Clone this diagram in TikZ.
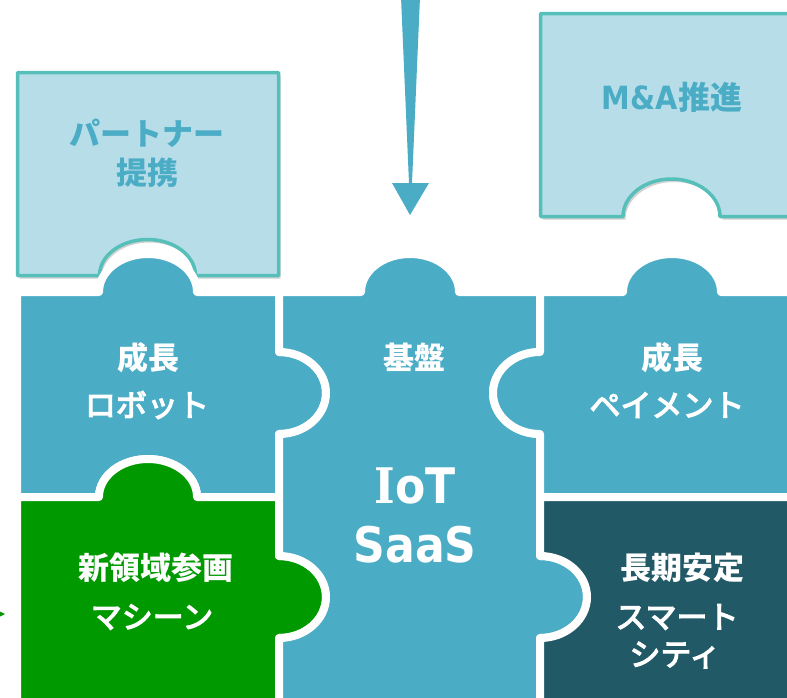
\documentclass[tikz,border=0pt]{standalone}
\usepackage{fontspec}
\setmainfont{Noto Sans CJK JP}
\newfontfamily\jpk[FakeBold=4]{Noto Sans CJK JP}
\newfontfamily\latfont[FakeStretch=0.9]{DejaVu Sans}
\newfontfamily\serfont[FakeStretch=0.9]{DejaVu Serif}
\definecolor{pblue}{HTML}{4BACC6}
\definecolor{pgreen}{HTML}{009900}
\definecolor{pdark}{HTML}{215967}
\definecolor{lfill}{HTML}{B7DEE8}
\definecolor{lteal}{HTML}{56BFB9}
\tikzset{
  piece/.style={draw=white,line width=8pt,line join=round},
  lbox/.style={draw=lteal,fill=lfill,line width=3.5pt,line join=round},
  lshadow/.style={fill=black,opacity=0.18},
  lbl/.style={text=white,inner sep=0pt,font=\fontsize{31}{37}\selectfont\bfseries},
  lblk/.style={text=white,inner sep=0pt,font=\fontsize{31}{37}\selectfont\jpk},
  big/.style={text=white,inner sep=0pt,anchor=base,font=\fontsize{49}{55}\selectfont\latfont\bfseries},
  ltxt/.style={text=pblue,inner sep=0pt,font=\fontsize{31}{37}\selectfont\bfseries},
}
\begin{document}
\begin{tikzpicture}[x=1pt,y=-1pt]
\useasboundingbox (0,0) rectangle (787,697);
\fill[white] (0,0) rectangle (787,697);
% light boxes shadows
\fill[lshadow] ([shift={(2,3)}]17.5,72.5) -- ++(261,0) -- ++(0,203) -- ++(-83,0)
  arc[start angle=0,end angle=-180,x radius=48,y radius=36] -- ++(-82,0) -- cycle;
\fill[lshadow] ([shift={(2,3)}]540.5,13.5) -- ++(260,0) -- ++(0,203) -- ++(-80,0)
  arc[start angle=0,end angle=-180,x radius=48.5,y radius=37.5] -- ++(-83,0) -- cycle;
% light boxes
\draw[lbox] (17.5,72.5) -- (278.5,72.5) -- (278.5,275.5) -- (195.5,275.5)
  arc[start angle=0,end angle=-180,x radius=48,y radius=36] -- (17.5,275.5) -- cycle;
\draw[lbox] (540.5,13.5) -- (800,13.5) -- (800,216.5) -- (720,216.5)
  arc[start angle=0,end angle=-180,x radius=48.5,y radius=37.5] -- (540.5,216.5) -- cycle;
% pieces
\filldraw[piece,fill=pblue] (17,292) -- (99,292) arc[start angle=180,end angle=360,x radius=49,y radius=38]
  -- (279,292) -- (279,352) arc[start angle=-90,end angle=90,x radius=47,y radius=41]
  -- (279,497) -- (197,497) arc[start angle=0,end angle=-180,x radius=49,y radius=38]
  -- (17,497) -- cycle;
\filldraw[piece,fill=pgreen] (17,497) -- (99,497) arc[start angle=180,end angle=360,x radius=49,y radius=38]
  -- (279,497) -- (279,556) arc[start angle=-90,end angle=90,x radius=47,y radius=41]
  -- (279,710) -- (17,710) -- cycle;
\filldraw[piece,fill=pblue] (279,292) -- (361,292) arc[start angle=180,end angle=360,x radius=49,y radius=38]
  -- (540,292) -- (540,352) arc[start angle=270,end angle=90,x radius=47,y radius=41]
  -- (540,556) arc[start angle=-90,end angle=90,x radius=47,y radius=41]
  -- (540,710) -- (279,710) -- (279,638) arc[start angle=90,end angle=-90,x radius=47,y radius=41]
  -- (279,434) arc[start angle=90,end angle=-90,x radius=47,y radius=41] -- cycle;
\filldraw[piece,fill=pblue] (540,292) -- (623,292) arc[start angle=180,end angle=360,x radius=49,y radius=38]
  -- (800,292) -- (800,497) -- (540,497) -- (540,434)
  arc[start angle=90,end angle=270,x radius=47,y radius=41] -- cycle;
\filldraw[piece,fill=pdark] (540,497) -- (800,497) -- (800,710) -- (540,710) -- (540,638)
  arc[start angle=90,end angle=-90,x radius=47,y radius=41] -- cycle;
% arrow
\fill[pblue] (401,-3) -- (420,-3) -- (412,183) -- (429,183) -- (410,215) -- (392,183) -- (409,183) -- cycle;
\fill[pgreen] (-1,611) -- (5,614) -- (-1,617) -- cycle;
% texts
\node[ltxt] (lb1) at (147,133) {パートナー};
\node[ltxt] (lb2) at (147,173) {提携};
\node[ltxt,font=\fontsize{32}{38}\selectfont\bfseries] (rb1) at (672,97) {{\latfont M\&A}推進};
\node[lbl] (a1) at (148,358) {成長};
\node[lblk] (a2) at (147,405) {ロボット};
\node[lbl] (c1) at (414,357) {基盤};
\node[big] (c2) at (415,503) {{\serfont I}oT};
\node[big] (c3) at (415,562) {SaaS};
\node[lbl] (d1) at (672,358) {成長};
\node[lblk] (d2) at (667,405) {ペイメント};
\node[lbl] (b1) at (156,568) {新領域参画};
\node[lblk] (b2) at (152,617) {マシーン};
\node[lbl] (e1) at (682,568) {長期安定};
\node[lblk] (e2) at (677,617) {スマート};
\node[lblk] (e3) at (675,655) {シティ};
\end{tikzpicture}
\end{document}
